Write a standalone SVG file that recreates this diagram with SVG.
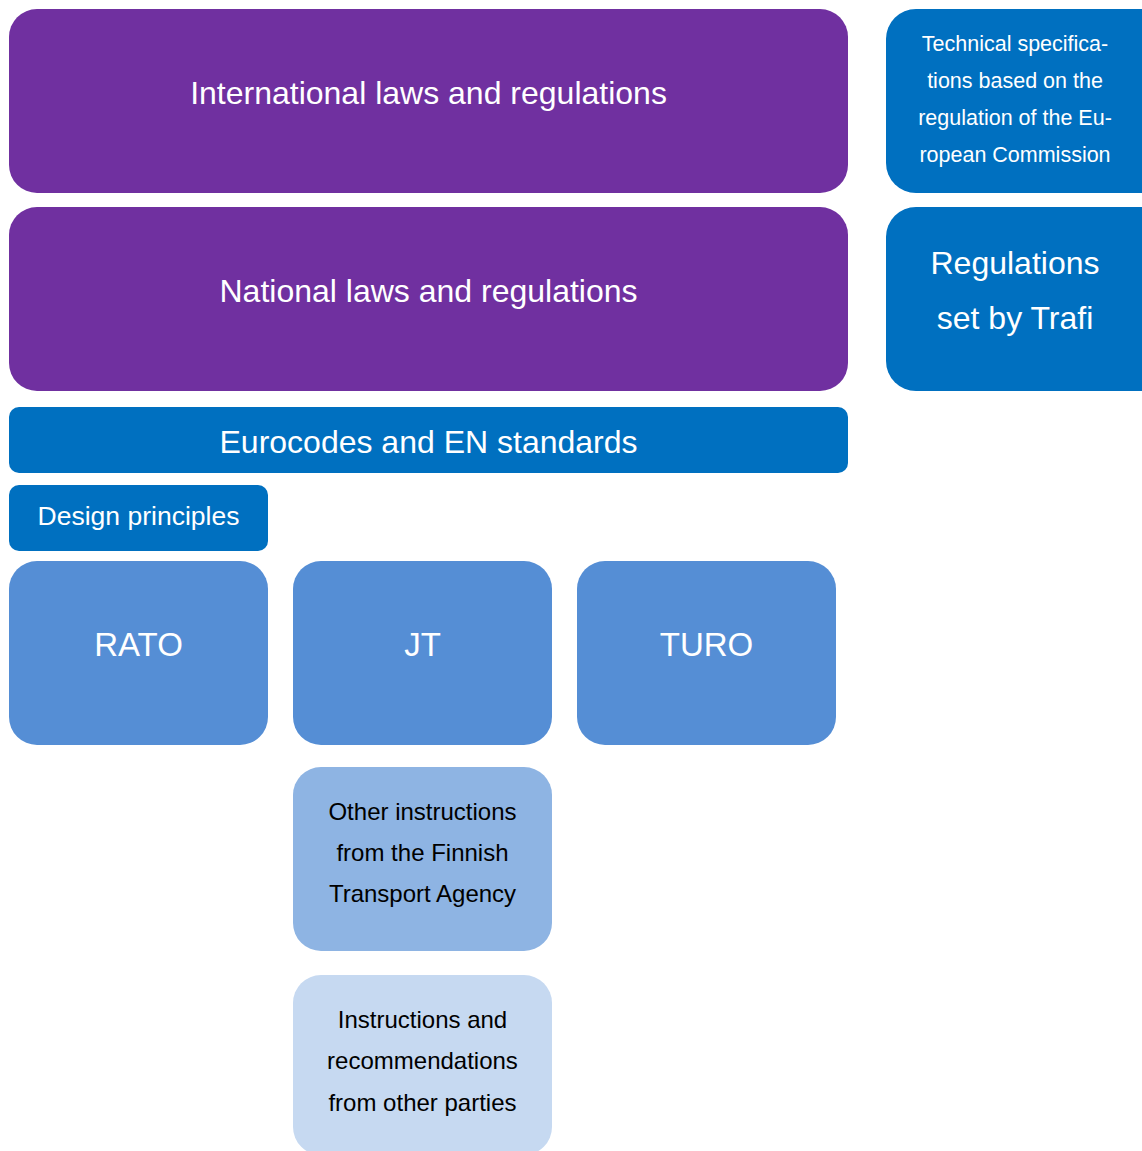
<svg xmlns="http://www.w3.org/2000/svg" width="1142" height="1151" viewBox="0 0 1142 1151">
<style>
text{font-family:"Liberation Sans",Arial,sans-serif;text-anchor:middle}
.w{fill:#fff}
.k{fill:#000}
.purple{fill:#7030A0}
.blue{fill:#0070C0}
.mid{fill:#558ED5}
.light{fill:#8EB4E3}
.pale{fill:#C6D9F1}
</style>
<rect width="1142" height="1151" fill="#fff"/>
<g id="international">
<rect class="purple" x="9" y="9" width="839" height="184" rx="28"/>
<text class="w" x="428.5" y="104" font-size="32">International laws and regulations</text>
</g>
<g id="national">
<rect class="purple" x="9" y="207" width="839" height="184" rx="28"/>
<text class="w" x="428.5" y="302" font-size="32">National laws and regulations</text>
</g>
<g id="technical">
<rect class="blue" x="886" y="9" width="286" height="184" rx="30"/>
<text class="w" font-size="21.5"><tspan x="1015" y="51">Technical specifica-</tspan><tspan x="1015" y="88">tions based on the</tspan><tspan x="1015" y="125">regulation of the Eu-</tspan><tspan x="1015" y="162">ropean Commission</tspan></text>
</g>
<g id="trafi">
<rect class="blue" x="886" y="207" width="286" height="184" rx="30"/>
<text class="w" font-size="32"><tspan x="1015" y="274">Regulations</tspan><tspan x="1015" y="329">set by Trafi</tspan></text>
</g>
<g id="eurocodes">
<rect class="blue" x="9" y="407" width="839" height="66" rx="10"/>
<text class="w" x="428.5" y="453" font-size="32">Eurocodes and EN standards</text>
</g>
<g id="design">
<rect class="blue" x="9" y="485" width="259" height="66" rx="10"/>
<text class="w" x="138.5" y="525" font-size="26.5">Design principles</text>
</g>
<g id="rato">
<rect class="mid" x="9" y="561" width="259" height="184" rx="28"/>
<text class="w" x="138.5" y="656" font-size="33">RATO</text>
</g>
<g id="jt">
<rect class="mid" x="293" y="561" width="259" height="184" rx="28"/>
<text class="w" x="422.5" y="656" font-size="33">JT</text>
</g>
<g id="turo">
<rect class="mid" x="577" y="561" width="259" height="184" rx="28"/>
<text class="w" x="706.5" y="656" font-size="33">TURO</text>
</g>
<g id="other">
<rect class="light" x="293" y="767" width="259" height="184" rx="28"/>
<text class="k" font-size="24"><tspan x="422.5" y="820">Other instructions</tspan><tspan x="422.5" y="861">from the Finnish</tspan><tspan x="422.5" y="902">Transport Agency</tspan></text>
</g>
<g id="parties">
<rect class="pale" x="293" y="975" width="259" height="180" rx="28"/>
<text class="k" font-size="24"><tspan x="422.5" y="1028">Instructions and</tspan><tspan x="422.5" y="1069">recommendations</tspan><tspan x="422.5" y="1111">from other parties</tspan></text>
</g>
<g id="connectors"></g>
</svg>
